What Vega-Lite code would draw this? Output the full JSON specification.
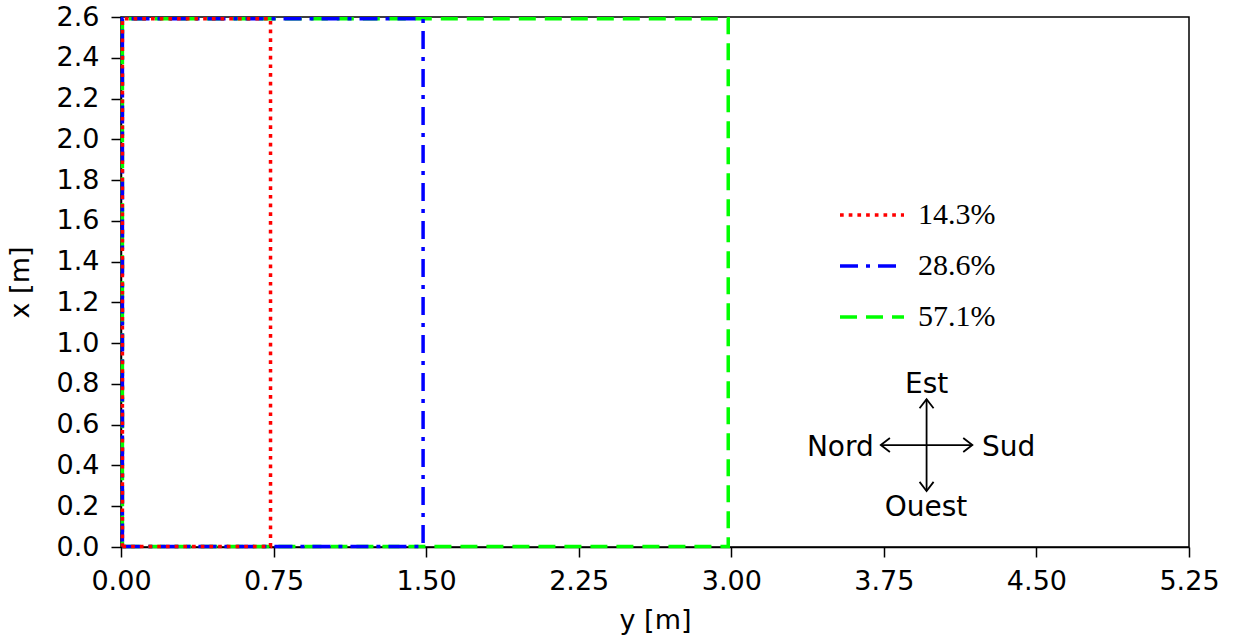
{
  "$schema": "https://vega.github.io/schema/vega-lite/v6.json",
  "autosize": "none",
  "width": 1068,
  "height": 530,
  "padding": {"left": 121, "top": 17, "right": 48, "bottom": 97},
  "background": "white",
  "config": {
    "view": {"stroke": "black", "strokeWidth": 1.5},
    "axis": {
      "grid": false,
      "domainColor": "black",
      "domainWidth": 1.5,
      "tickColor": "black",
      "tickWidth": 1.5,
      "tickSize": 10,
      "labelFont": "DejaVu Sans",
      "labelFontSize": 27,
      "labelColor": "black",
      "titleFont": "DejaVu Sans",
      "titleFontSize": 27,
      "titleFontWeight": "normal",
      "titleColor": "black",
      "labelOverlap": false,
      "labelFlush": false
    },
    "legend": {
      "labelFont": "Liberation Serif",
      "labelFontSize": 30,
      "labelColor": "black",
      "symbolType": "stroke",
      "symbolSize": 4096,
      "symbolStrokeWidth": 3.5,
      "labelOffset": 12,
      "rowPadding": 2,
      "padding": 0
    }
  },
  "datasets": {
    "rects": [
      {"ratio": "57.1%", "k": 0, "ym": 0.007, "xm": 0.003},
      {"ratio": "57.1%", "k": 1, "ym": 2.985, "xm": 0.003},
      {"ratio": "57.1%", "k": 2, "ym": 2.985, "xm": 2.592},
      {"ratio": "57.1%", "k": 3, "ym": 0.007, "xm": 2.592},
      {"ratio": "57.1%", "k": 4, "ym": 0.007, "xm": 0.003},
      {"ratio": "28.6%", "k": 0, "ym": 0.007, "xm": 0.003},
      {"ratio": "28.6%", "k": 1, "ym": 1.485, "xm": 0.003},
      {"ratio": "28.6%", "k": 2, "ym": 1.485, "xm": 2.592},
      {"ratio": "28.6%", "k": 3, "ym": 0.007, "xm": 2.592},
      {"ratio": "28.6%", "k": 4, "ym": 0.007, "xm": 0.003},
      {"ratio": "14.3%", "k": 0, "ym": 0.007, "xm": 0.003},
      {"ratio": "14.3%", "k": 1, "ym": 0.735, "xm": 0.003},
      {"ratio": "14.3%", "k": 2, "ym": 0.735, "xm": 2.592},
      {"ratio": "14.3%", "k": 3, "ym": 0.007, "xm": 2.592},
      {"ratio": "14.3%", "k": 4, "ym": 0.007, "xm": 0.003}
    ],
    "arrows": [
      {"a1": 3.735, "a2": 4.185, "b1": 0.5, "b2": 0.5},
      {"a1": 3.96, "a2": 3.96, "b1": 0.275, "b2": 0.725}
    ],
    "heads": [
      {"hx": 3.96, "hy": 0.725, "dir": "up"},
      {"hx": 3.96, "hy": 0.275, "dir": "down"},
      {"hx": 3.735, "hy": 0.5, "dir": "left"},
      {"hx": 4.185, "hy": 0.5, "dir": "right"}
    ],
    "labels": [
      {"lx": 3.96, "ly": 0.757, "name": "Est"},
      {"lx": 3.957, "ly": 0.15, "name": "Ouest"},
      {"lx": 3.536, "ly": 0.446, "name": "Nord"},
      {"lx": 4.363, "ly": 0.446, "name": "Sud"}
    ]
  },
  "layer": [
    {
      "data": {"name": "rects"},
      "mark": {"type": "line", "strokeWidth": 3.5, "strokeCap": "butt"},
      "encoding": {
        "x": {
          "field": "ym", "type": "quantitative", "title": "y [m]",
          "scale": {"domain": [0, 5.25], "nice": false, "zero": false},
          "axis": {"values": [0, 0.75, 1.5, 2.25, 3, 3.75, 4.5, 5.25], "format": ".2f", "labelPadding": 11, "titlePadding": 13}
        },
        "y": {
          "field": "xm", "type": "quantitative", "title": "x [m]",
          "scale": {"domain": [0, 2.6], "nice": false, "zero": false},
          "axis": {"values": [0, 0.2, 0.4, 0.6, 0.8, 1.0, 1.2, 1.4, 1.6, 1.8, 2.0, 2.2, 2.4, 2.6], "format": ".1f", "labelPadding": 12, "titlePadding": 22}
        },
        "color": {
          "field": "ratio", "type": "nominal",
          "scale": {"domain": ["14.3%", "28.6%", "57.1%"], "range": ["#ff0000", "#0000ff", "#00ff00"]},
          "legend": {"title": null, "orient": "none", "legendX": 717, "legendY": 164}
        },
        "strokeDash": {
          "field": "ratio", "type": "nominal",
          "scale": {"domain": ["14.3%", "28.6%", "57.1%"], "range": [[3.7, 5], [18, 8, 4, 8], [17, 9]]},
          "legend": {"title": null, "orient": "none", "legendX": 717, "legendY": 164}
        },
        "order": {"field": "k", "type": "quantitative"}
      }
    },
    {
      "data": {"name": "arrows"},
      "mark": {"type": "rule", "color": "black", "strokeWidth": 1.8},
      "encoding": {
        "x": {"field": "a1", "type": "quantitative", "title": "y [m]"},
        "x2": {"field": "a2"},
        "y": {"field": "b1", "type": "quantitative", "title": "x [m]"},
        "y2": {"field": "b2"}
      }
    },
    {
      "data": {"name": "heads"},
      "mark": {"type": "point", "filled": false, "color": "black", "strokeWidth": 1.8, "size": 196, "opacity": 1},
      "encoding": {
        "x": {"field": "hx", "type": "quantitative", "title": "y [m]"},
        "y": {"field": "hy", "type": "quantitative", "title": "x [m]"},
        "shape": {
          "field": "dir", "type": "nominal", "legend": null,
          "scale": {
            "domain": ["up", "down", "left", "right"],
            "range": ["M-1,1.3L0,0L1,1.3", "M-1,-1.3L0,0L1,-1.3", "M1.3,-1L0,0L1.3,1", "M-1.3,-1L0,0L-1.3,1"]
          }
        }
      }
    },
    {
      "data": {"name": "labels"},
      "mark": {"type": "text", "font": "DejaVu Sans", "fontSize": 28, "color": "black", "align": "center", "baseline": "alphabetic"},
      "encoding": {
        "x": {"field": "lx", "type": "quantitative", "title": "y [m]"},
        "y": {"field": "ly", "type": "quantitative", "title": "x [m]"},
        "text": {"field": "name", "type": "nominal"}
      }
    }
  ]
}
